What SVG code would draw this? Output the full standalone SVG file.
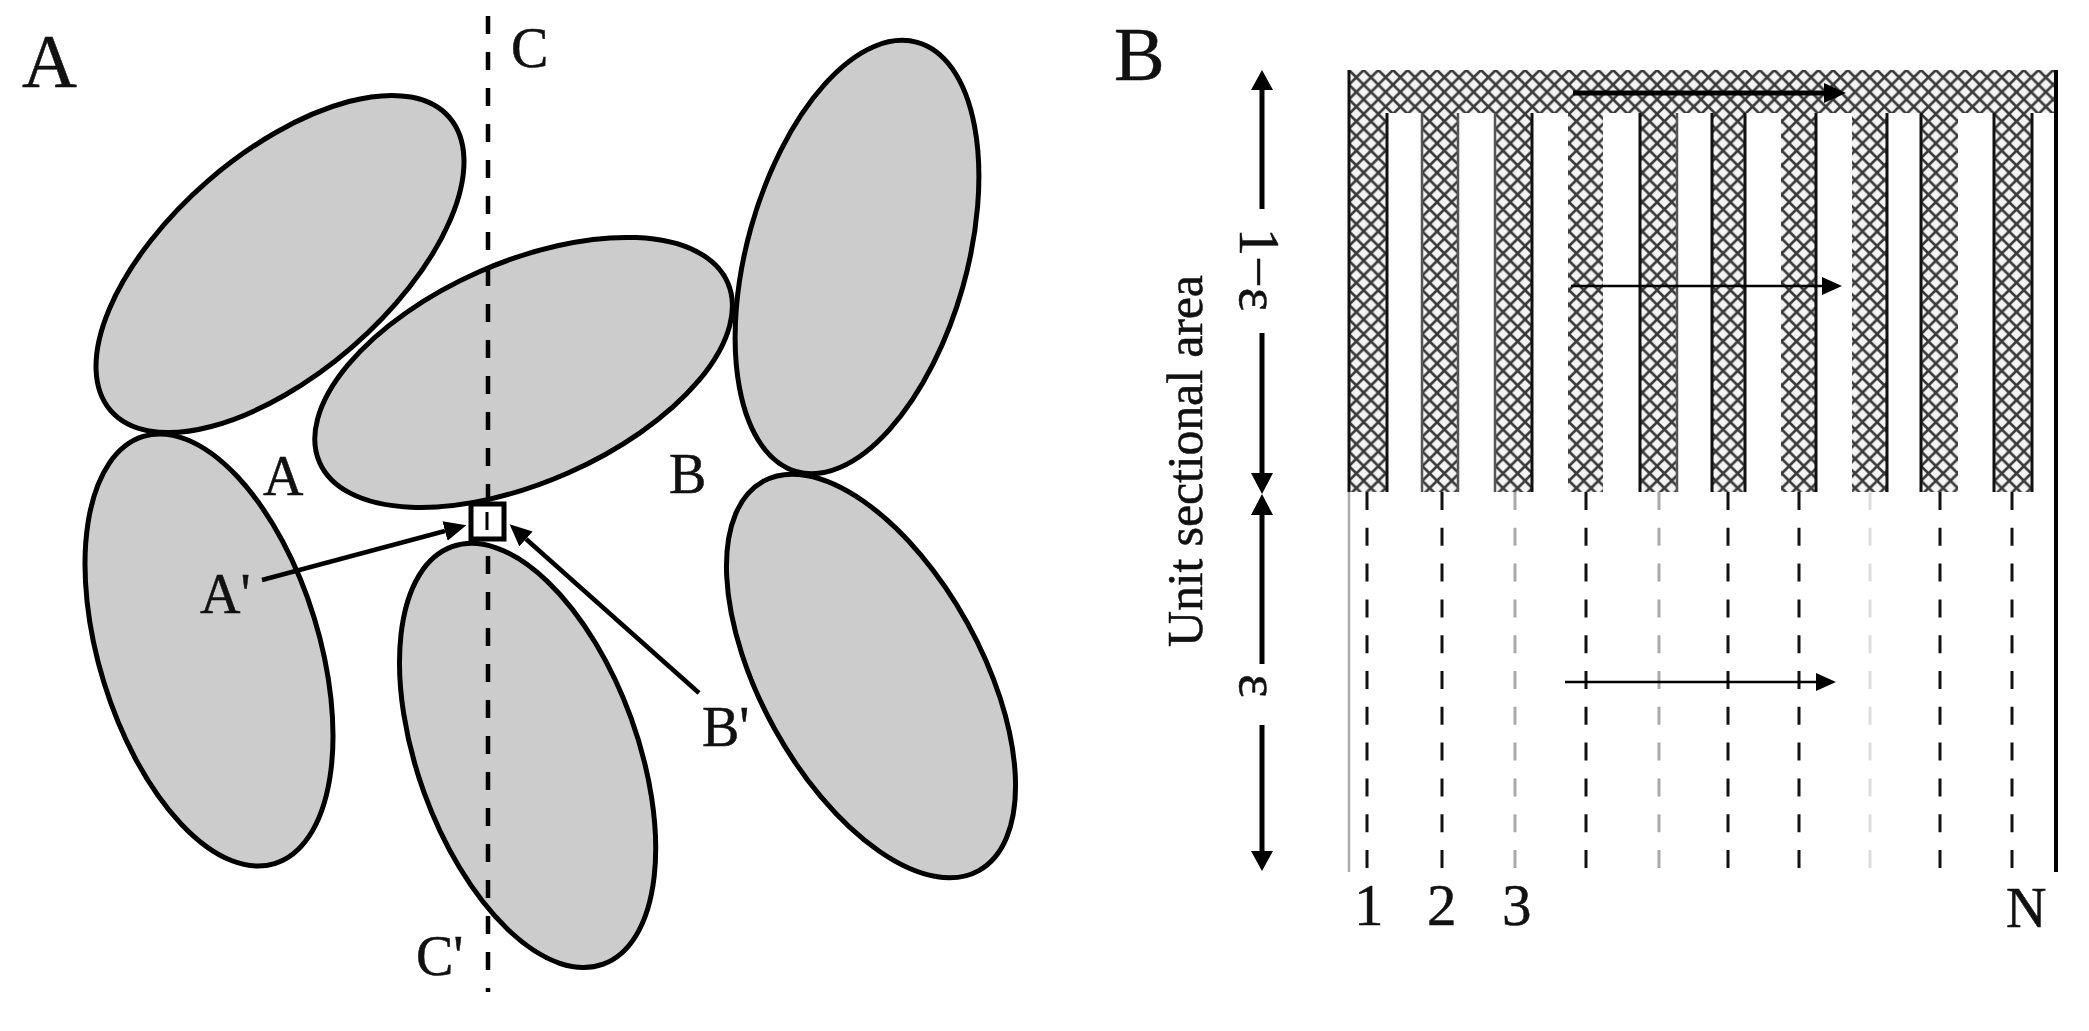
<svg xmlns="http://www.w3.org/2000/svg" width="2089" height="1031" viewBox="0 0 2089 1031">
<style>
text{font-family:"Liberation Serif","Times New Roman",serif;fill:#111;stroke:#111;stroke-width:.5}
.big{font-size:76px}.mid{font-size:56px}
.grain{fill:#ccc;stroke:#000;stroke-width:5}
.hatch{fill:url(#xh)}
.edge{stroke:#111;stroke-width:3}
.edgeg{stroke:#555;stroke-width:2.5}
.dash{stroke:#111;stroke-width:3;stroke-dasharray:18 17.8}
.dashg{stroke:#aaa;stroke-width:3;stroke-dasharray:18 17.8}
.dashl{stroke:#ddd;stroke-width:3;stroke-dasharray:18 17.8}
</style>
<defs>
<pattern id="xh" width="14.67" height="14.67" patternUnits="userSpaceOnUse" x="1349" y="70">
<rect width="14.67" height="14.67" fill="#f4f4f4"/>
<path d="M0 0L14.67 14.67M14.67 0L0 14.67" stroke="#3a3a3a" stroke-width="2.6" fill="none"/>
</pattern>
<marker id="ah" markerUnits="userSpaceOnUse" markerWidth="24" markerHeight="24" refX="0" refY="12" orient="auto"><path d="M0 2L22 12L0 22z" fill="#000"/></marker>
<marker id="ahs" markerUnits="userSpaceOnUse" markerWidth="24" markerHeight="24" refX="0" refY="12" orient="auto"><path d="M0 3L20 12L0 21z" fill="#000"/></marker>
</defs>
<rect width="2089" height="1031" fill="#fff"/>

<g id="grain-top-left"><ellipse class="grain" cx="280" cy="264" rx="224" ry="110" transform="rotate(-40.9 280 264)"/></g>
<g id="grain-left"><ellipse class="grain" cx="209" cy="650" rx="110" ry="223.5" transform="rotate(-17.1 209 650)"/></g>
<g id="grain-top-right"><ellipse class="grain" cx="857" cy="257" rx="110" ry="223" transform="rotate(15.7 857 257)"/></g>
<g id="grain-right"><ellipse class="grain" cx="871" cy="676" rx="110" ry="222.5" transform="rotate(-29 871 676)"/></g>
<g id="grain-bottom"><ellipse class="grain" cx="527.6" cy="755.4" rx="110" ry="222" transform="rotate(-19.9 527.6 755.4)"/></g>
<g id="grain-centre"><ellipse class="grain" cx="523.6" cy="372.4" rx="223" ry="110" transform="rotate(-23.8 523.6 372.4)"/></g>

<g id="panel-a-connectors" fill="none" stroke="#000">
<line x1="488" y1="14" x2="488" y2="992" stroke-width="4.5" stroke-dasharray="18 18" stroke-dashoffset="-2"/>
<line x1="262" y1="580" x2="445" y2="531" stroke-width="4.5" marker-end="url(#ah)"/>
<line x1="699" y1="693" x2="526" y2="539" stroke-width="4.5" marker-end="url(#ah)"/>
</g>
<g id="contact-box">
<rect x="471" y="504" width="33" height="35" fill="#fff" stroke="#000" stroke-width="5"/>
<line x1="487" y1="512" x2="487" y2="530" stroke="#000" stroke-width="3"/>
</g>
<g id="panel-a-labels">
<text class="big" x="22" y="87">A</text>
<text class="mid" x="511" y="67">C</text>
<text class="mid" x="263" y="495">A</text>
<text class="mid" x="669" y="493">B</text>
<text class="mid" x="200" y="613">A'</text>
<text class="mid" x="702" y="746">B'</text>
<text class="mid" x="416" y="975">C'</text>
</g>

<g id="channel-top"><rect class="hatch" x="1348" y="70" width="708" height="43"/></g>
<g id="channels">
<rect class="hatch" x="1348" y="112" width="39" height="380"/>
<rect class="hatch" x="1422" y="112" width="36" height="380"/>
<rect class="hatch" x="1495" y="112" width="37" height="380"/>
<rect class="hatch" x="1568" y="112" width="35" height="380"/>
<rect class="hatch" x="1640" y="112" width="37" height="380"/>
<rect class="hatch" x="1712" y="112" width="33" height="380"/>
<rect class="hatch" x="1781" y="112" width="35" height="380"/>
<rect class="hatch" x="1852" y="112" width="35" height="380"/>
<rect class="hatch" x="1921" y="112" width="37" height="380"/>
<rect class="hatch" x="1994" y="112" width="38" height="380"/>
</g>
<g id="channel-edges">
<line class="edge" x1="1387" y1="113" x2="1387" y2="492"/>
<line class="edgeg" x1="1422" y1="113" x2="1422" y2="492"/>
<line class="edgeg" x1="1458" y1="113" x2="1458" y2="492"/>
<line class="edgeg" x1="1495" y1="113" x2="1495" y2="492"/>
<line class="edge" x1="1532" y1="113" x2="1532" y2="492"/>
<line class="edge" x1="1640" y1="113" x2="1640" y2="492"/>
<line class="edgeg" x1="1677" y1="113" x2="1677" y2="492"/>
<line class="edge" x1="1712" y1="113" x2="1712" y2="492"/>
<line class="edge" x1="1745" y1="113" x2="1745" y2="492"/>
<line class="edge" x1="1816" y1="113" x2="1816" y2="492"/>
<line class="edge" x1="1887" y1="113" x2="1887" y2="492"/>
<line class="edge" x1="1921" y1="113" x2="1921" y2="492"/>
<line class="edge" x1="1994" y1="113" x2="1994" y2="492"/>
<line class="edge" x1="2032" y1="113" x2="2032" y2="492"/>
</g>
<g id="panel-b-frame">
<line x1="1349" y1="70" x2="1349" y2="492" stroke="#111" stroke-width="3"/>
<line x1="1349" y1="492" x2="1349" y2="872" stroke="#aaa" stroke-width="2.5"/>
<line x1="2056" y1="70" x2="2056" y2="872" stroke="#000" stroke-width="4"/>
</g>
<g id="pore-lines">
<line class="dash" x1="1367" y1="492" x2="1367" y2="868"/>
<line class="dash" x1="1442" y1="492" x2="1442" y2="868"/>
<line class="dashg" x1="1515" y1="492" x2="1515" y2="868"/>
<line class="dash" x1="1586" y1="492" x2="1586" y2="868"/>
<line class="dashg" x1="1659" y1="492" x2="1659" y2="868"/>
<line class="dash" x1="1728" y1="492" x2="1728" y2="868"/>
<line class="dash" x1="1799" y1="492" x2="1799" y2="868"/>
<line class="dashl" x1="1870" y1="492" x2="1870" y2="868"/>
<line class="dash" x1="1940" y1="492" x2="1940" y2="868"/>
<line class="dash" x1="2012" y1="492" x2="2012" y2="868"/>
</g>
<g id="flow-arrows" stroke="#000">
<line x1="1573" y1="93" x2="1824" y2="93" stroke-width="5" marker-end="url(#ah)"/>
<line x1="1571" y1="286" x2="1822" y2="286" stroke-width="2.5" marker-end="url(#ahs)"/>
<line x1="1565" y1="682" x2="1816" y2="682" stroke-width="2.5" marker-end="url(#ahs)"/>
</g>
<g id="dimension" stroke="#000" stroke-width="5">
<line x1="1262" y1="88" x2="1262" y2="209"/>
<line x1="1262" y1="333" x2="1262" y2="476"/>
<line x1="1262" y1="512" x2="1262" y2="664"/>
<line x1="1262" y1="725" x2="1262" y2="855"/>
<path d="M1262 70L1273 90H1251zM1251 851H1273L1262 871zM1251 473H1273L1262 494zM1262 494L1273 515H1251z" stroke="none" fill="#000"/>
</g>
<g id="panel-b-labels">
<text class="big" x="1114" y="80">B</text>
<text font-size="56" transform="translate(1240 228) rotate(90)">1−ε</text>
<text font-size="56" transform="translate(1240 674) rotate(90)">ε</text>
<text font-size="50" transform="translate(1202 647) rotate(-90)" textLength="372">Unit sectional area</text>
<text font-size="59" x="1354" y="925">1</text>
<text font-size="59" x="1427" y="925">2</text>
<text font-size="59" x="1502" y="925">3</text>
<text class="mid" x="2006" y="927">N</text>
</g>
</svg>
